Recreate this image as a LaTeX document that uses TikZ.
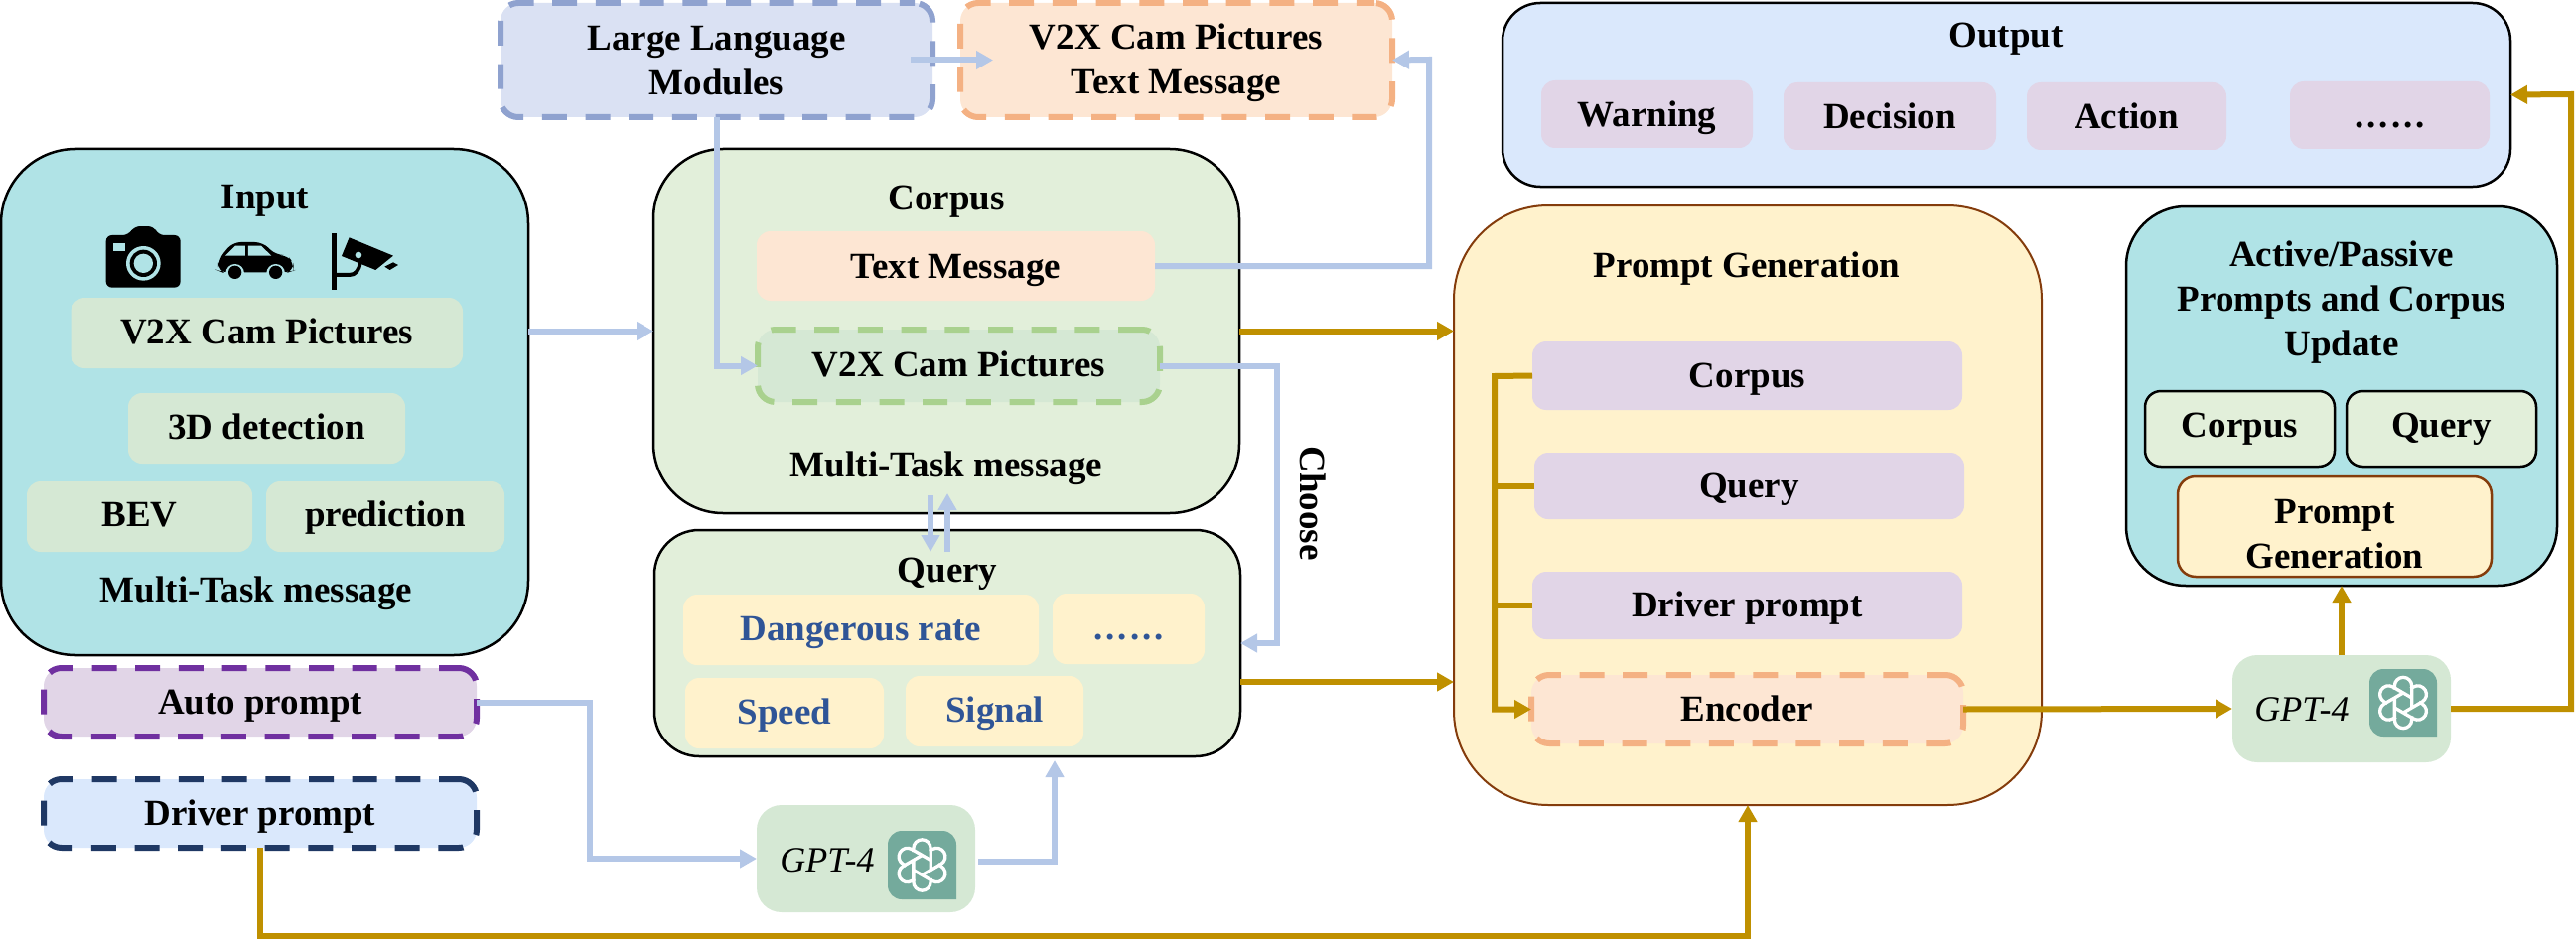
\documentclass[tikz,border=0pt]{standalone}
\usepackage{fontspec}
\setmainfont{Liberation Serif}
\usetikzlibrary{arrows.meta}
\definecolor{tealbg}{HTML}{B0E3E6}
\definecolor{softgreen}{HTML}{D5E8D4}
\definecolor{palegreen}{HTML}{E2EFDA}
\definecolor{softyellow}{HTML}{FFF2CC}
\definecolor{softpurple}{HTML}{E1D5E7}
\definecolor{softblue}{HTML}{DAE8FC}
\definecolor{softpeach}{HTML}{FDE6D3}
\definecolor{softindigo}{HTML}{DAE1F3}
\definecolor{linkblue}{HTML}{B4C7E7}
\definecolor{linkgold}{HTML}{BF9000}
\definecolor{brownedge}{HTML}{843C0C}
\definecolor{indigoedge}{HTML}{8FA2CF}
\definecolor{peachedge}{HTML}{F4B183}
\definecolor{greenedge}{HTML}{A9D18E}
\definecolor{purpleedge}{HTML}{7030A0}
\definecolor{navyedge}{HTML}{1F3864}
\definecolor{textblue}{HTML}{2F5597}
\definecolor{logobg}{HTML}{74AA9C}
\tikzset{
  base/.style={rectangle,inner sep=0pt,outer sep=0pt,align=center,font=\bfseries\fontsize{37}{45}\selectfont},
  bl/.style={text height=#1pt,text depth=6pt},
  panel/.style={base,draw=black,line width=2.5pt},
  soft/.style={base,rounded corners=14pt},
  dashbox/.style={base,line width=6pt,dash pattern=on 25pt off 18.7pt,dash phase=#1pt,rounded corners=18pt},
  ttl/.style={base,bl=27},
  gptlabel/.style={base,bl=27,font=\itshape\fontsize{36}{45}\selectfont},
  bluelink/.style={draw=linkblue,line width=6pt,-{Triangle[length=17pt,width=18pt]}},
  goldlink/.style={draw=linkgold,line width=6pt,-{Triangle[length=17pt,width=18pt]}},
  goldpipe/.style={draw=linkgold,line width=6pt},
}
\newcommand{\bx}[7][]{\node[#6,minimum width={(#4-#2)*1pt},minimum height={(#5-#3)*1pt},#1] (#7) at ({(#2+#4)/2},{(#3+#5)/2})}
\newcommand{\sixdots}{.\kern3pt.\kern3pt.\kern3pt.\kern3pt.\kern3pt.}
\newcommand{\gptlogo}[4]{%
  \fill[logobg] (#3,#4) [rounded corners=14pt] -- (#1,#4) -- (#1,#2) -- (#3,#2) [sharp corners] -- cycle;
  \begin{scope}[shift={({(#1+#3)/2},{(#2+#4)/2})}]
    \foreach \a in {0,60,...,300}{
      \draw[white,line width=3.3pt,rotate=\a] (-8.66,5) -- (10.4,16) arc[start angle=120,end angle=-60,radius=8.66] -- (16,-0.8);
    }
  \end{scope}}
\begin{document}
\begin{tikzpicture}[x=1pt,y=-1pt]
\useasboundingbox (0,0) rectangle (2594,947);
% ---------- Input
\bx[rounded corners=75pt]{1}{150}{532}{660}{panel,fill=tealbg}{input} {};
\node[ttl] (inputt) at (267,199.5) {Input};
\bx{71.5}{300}{466}{371}{soft,bl=27,fill=softgreen}{inv} {V2X Cam Pictures};
\bx{129}{396}{408}{467}{soft,bl=27,fill=softgreen}{ind} {3D detection};
\bx{27}{485}{254}{556}{soft,bl=25,fill=softgreen}{inb} {BEV};
\bx{268}{485}{508}{556}{soft,bl=25,fill=softgreen}{inp} {prediction};
\node[ttl] (inputm) at (258,596) {Multi-Task message};
% camera, car, road camera
\begin{scope}[shift={(100,222)},x=0.3333pt,y=-0.3333pt]
  \fill[black,rounded corners=6pt] (20,45) -- (88,45) -- (105,18) -- (165,18) -- (178,45) -- (245,45) -- (245,203) -- (20,203) -- cycle;
  \fill[tealbg] (42,68) rectangle (77,92);
  \fill[tealbg] (133,130) circle (52);
  \fill[black] (133,130) circle (41);
  \fill[tealbg] (133,130) circle (29);
  \fill[black,rounded corners=8pt] (372,157) -- (360,152) -- (360,118) -- (403,66) -- (494,66) -- (533,105) -- (568,105) -- (587,130) -- (587,152) -- (572,157) -- cycle;
  \fill[tealbg] (381,107) -- (411,77) -- (441,77) -- (441,107) -- cycle;
  \fill[tealbg] (450,77) -- (489,77) -- (520,107) -- (450,107) -- cycle;
  \fill[tealbg] (410,160) circle (28);
  \fill[tealbg] (533,160) circle (28);
  \fill[tealbg] (355,158) rectangle (592,190);
  \fill[black] (410,157) circle (20);
  \fill[black] (533,157) circle (20);
  \fill[black] (703,38) rectangle (718,210);
  \draw[black,line width=4pt] (710,165) -- (755,165) .. controls (775,165) and (785,150) .. (788,128);
  \fill[black] (755,52) -- (888,107) -- (835,150) -- (732,108) -- cycle;
  \fill[tealbg] (783,105) circle (10);
  \fill[black] (862,140) -- (888,127) -- (903,135) -- (878,150) -- cycle;
\end{scope}
% ---------- Top
\bx{504}{3}{939}{118}{dashbox=9.8,draw=indigoedge,fill=softindigo}{llm} {\rule{0pt}{31pt}Large Language\\Modules\rule[-5pt]{0pt}{5pt}};
\bx{967}{3}{1402}{118}{dashbox=6.8,draw=peachedge,fill=softpeach}{topv} {\rule{0pt}{31pt}V2X Cam Pictures\\Text Message\rule[-5pt]{0pt}{5pt}};
% ---------- Corpus
\bx[rounded corners=70pt]{658}{150}{1248}{517}{panel,fill=palegreen}{corpus} {};
\node[ttl] (corpust) at (953,201) {Corpus};
\bx{762}{233}{1163}{303}{soft,bl=30,fill=softpeach}{ctext} {Text Message};
\bx{763}{332}{1168}{405}{dashbox=1.1,bl=27,draw=greenedge,fill=softgreen}{cv2x} {V2X Cam Pictures};
\node[ttl] (corpusm) at (953,469.5) {Multi-Task message};
% ---------- Query
\bx[rounded corners=45pt]{659}{534}{1249}{762}{panel,fill=palegreen}{query} {};
\node[ttl] (queryt) at (954,576) {Query};
\bx{688}{599}{1046}{670}{soft,bl=27,fill=softyellow,text=textblue}{qd} {Dangerous rate};
\bx{1060}{598}{1213}{669}{soft,bl=27,fill=softyellow,text=textblue}{qe} {\sixdots};
\bx{690}{683}{890}{754}{soft,bl=27,fill=softyellow,text=textblue}{qs} {Speed};
\bx{912}{681}{1091}{752}{soft,bl=27,fill=softyellow,text=textblue}{qi} {Signal};
\node[ttl,rotate=-90] (choose) at (1320,507) {Choose};
% ---------- Prompts
\bx{44}{673}{480}{742}{dashbox=5.1,bl=29,draw=purpleedge,fill=softpurple}{auto} {Auto prompt};
\bx{44}{785}{480}{854}{dashbox=5.1,bl=29,draw=navyedge,fill=softblue}{driver} {Driver prompt};
% ---------- GPT left
\bx{762}{811}{982}{919}{base,fill=softgreen,rounded corners=25pt}{gpta} {};
\node[gptlabel] (gptat) at (833,867.5) {GPT-4};
\gptlogo{894}{837}{963}{906}
% ---------- Prompt generation
\bx[rounded corners=95pt]{1464}{207}{2056}{811}{base,draw=brownedge,line width=2pt,fill=softyellow}{pg} {};
\node[ttl] (pgt) at (1759,269) {Prompt Generation};
\bx{1543}{344}{1976}{413}{soft,bl=29,fill=softpurple}{pc} {Corpus};
\bx{1545}{456}{1978}{523}{soft,bl=29,fill=softpurple}{pq} {Query};
\bx{1543}{576}{1976}{644}{soft,bl=29,fill=softpurple}{pd} {Driver prompt};
\bx{1542}{680}{1977}{749}{dashbox=6.1,bl=30,draw=peachedge,fill=softpeach}{enc} {Encoder};
% ---------- Output
\bx[rounded corners=38pt]{1513}{3}{2528}{188}{panel,fill=softblue}{out} {};
\node[ttl] (outt) at (2020,37) {Output};
\bx{1552}{81}{1765}{149}{soft,bl=31,fill=softpurple}{ow} {Warning};
\bx{1796}{83}{2010}{151}{soft,bl=31,fill=softpurple}{od} {Decision};
\bx{2041}{83}{2242}{151}{soft,bl=31,fill=softpurple}{oa} {Action};
\bx{2306}{82}{2507}{150}{soft,bl=31,fill=softpurple}{oe} {\sixdots};
% ---------- Update panel
\bx[rounded corners=60pt]{2141}{208}{2575}{590}{panel,fill=tealbg}{app} {};
\node[base] (appt) at (2358,302) {\rule{0pt}{30pt}Active/Passive\\Prompts and Corpus\\Update\rule[-6pt]{0pt}{6pt}};
\bx{2160}{394}{2351}{470}{soft,bl=23,draw=black,line width=2.5pt,fill=palegreen,rounded corners=16pt}{ac} {Corpus};
\bx{2363}{394}{2554}{470}{soft,bl=23,draw=black,line width=2.5pt,fill=palegreen,rounded corners=16pt}{aq} {Query};
\bx{2193}{480}{2509}{581}{base,draw=brownedge,line width=2.5pt,fill=softyellow,rounded corners=18pt}{ap} {\rule{0pt}{39pt}Prompt\\Generation};
% ---------- GPT right
\bx{2248}{660}{2468}{768}{base,fill=softgreen,rounded corners=25pt}{gptb} {};
\node[gptlabel] (gptbt) at (2318,716) {GPT-4};
\gptlogo{2386}{674}{2454}{742}
% ---------- Waypoints
\coordinate (w1) at (1439,60);
\coordinate (w2) at (1286,648);
\coordinate (w3) at (594,865);
\coordinate (w4) at (1062,868);
\coordinate (w5) at (1062,766);
\coordinate (w6) at (262,943);
\coordinate (w7) at (1505,379);
\coordinate (w8) at (2589,95);
\coordinate (d1) at (937,499);
\coordinate (d2) at (937,556);
\coordinate (d3) at (954,556);
\coordinate (d4) at (954,497);
% ---------- Blue connectors
\draw[bluelink] (input.east |- corpus.west) -- (corpus.west);
\draw[bluelink] ([xshift=-22pt]llm.east) -- ([xshift=33pt]topv.west);
\draw[bluelink] (llm.south) -- (llm.south |- cv2x.west) -- (cv2x.west);
\draw[bluelink] (ctext.east) -- (ctext.east -| w1) -- (w1) -- (topv.east);
\draw[bluelink] (cv2x.east) -- (cv2x.east -| w2) -- (w2) -- (query.east);
\draw[bluelink] (d1) -- (d2);
\draw[bluelink] (d3) -- (d4);
\draw[bluelink] (auto.east) -- (auto.east -| w3) -- (w3) -- (gpta.west);
\draw[bluelink] ([xshift=3pt,yshift=-3pt]gpta.east) -- (w4) -- (w5);
% ---------- Gold connectors
\draw[goldlink] (corpus.east) -- (corpus.east -| pg.west);
\draw[goldlink] ([yshift=-39pt]query.east) -- ([yshift=-39pt]query.east -| pg.west);
\draw[goldlink] (driver.south) -- (w6) -- (w6 -| pg.south) -- (pg.south);
\draw[goldlink] (pc.west) -- (w7) -- (w7 |- enc.west) -- (enc.west);
\draw[goldpipe] (pq.west) -- (pq.west -| w7);
\draw[goldpipe] (pd.west) -- (pd.west -| w7);
\draw[goldlink] (enc.east) -- (gptb.west);
\draw[goldlink] (gptb.north) -- (app.south);
\draw[goldlink] (gptb.east) -- (gptb.east -| w8) -- (w8) -- (out.east);
\end{tikzpicture}
\end{document}
